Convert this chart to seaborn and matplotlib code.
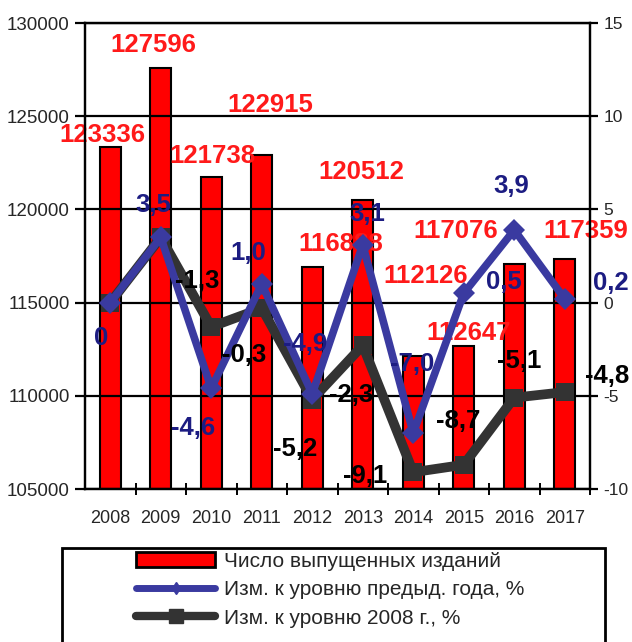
import numpy as np
import pandas as pd
import seaborn as sns
import matplotlib.pyplot as plt
from matplotlib.patches import Patch, Rectangle
from matplotlib.lines import Line2D

# Data
years = ['2008', '2009', '2010', '2011', '2012', '2013', '2014', '2015', '2016', '2017']
editions = [123336, 127596, 121738, 122915, 116888, 120512, 112126, 112647, 117076, 117359]
chg_prev = [0, 3.5, -4.6, 1.0, -4.9, 3.1, -7.0, 0.5, 3.9, 0.2]
chg_2008 = [0, 3.5, -1.3, -0.3, -5.2, -2.3, -9.1, -8.7, -5.1, -4.8]
prev_labels = ['0', '3,5', '-4,6', '1,0', '-4,9', '3,1', '-7,0', '0,5', '3,9', '0,2']
base_labels = ['', '', '-1,3', '-0,3', '-5,2', '-2,3', '-9,1', '-8,7', '-5,1', '-4,8']
legend_labels = ['Число выпущенных изданий', 'Изм. к уровню предыд. года, %', 'Изм. к уровню 2008 г., %']

# label offsets in pixels (dx, dy), as placed in the original picture
red_off = [(-8, 12), (-7, 23), (1, 21), (9, 50), (28, 23), (-1, 28), (12, 80), (5, 13), (-59, 33), (21, 28)]
blue_off = [(-9, -35), (-7, 32), (-18, -40), (-14, 31), (-7, 50), (5, 31), (-1, 69), (40, 11), (-3, 44), (46, 16)]
dark_off = [(0, 0), (0, 0), (-14, 46), (-18, -47), (-17, -49), (-12, -50), (-48, -4), (-6, 44), (5, 37), (42, 16)]

RED = '#ff0000'
BLUE = '#3a3aa0'
NAVY = '#1c1c82'
DARK = '#333333'

sns.set_theme(style='white')
plt.rcParams['font.family'] = ['Liberation Sans', 'DejaVu Sans']
plt.rcParams['axes.unicode_minus'] = False

df = pd.DataFrame({'year': years, 'pos': np.arange(len(years)), 'editions': editions,
                   'prev': chg_prev, 'base': chg_2008})

fig = plt.figure(figsize=(6.32, 6.42), dpi=100)
ax = fig.add_axes([85 / 632, 1 - 489 / 642, 505 / 632, 466 / 642])

sns.barplot(data=df, x='year', y='editions', color=RED, saturation=1, width=0.42,
            edgecolor='black', linewidth=1.5, ax=ax)
ax.set_ylim(105000, 130000)
ax.set_xlim(-0.5, len(years) - 0.5)
ax.set_yticks(np.arange(105000, 130001, 5000))
ax.yaxis.grid(True, color='black', linewidth=1.6)
ax.set_axisbelow(False)
ax.set_xlabel('')
ax.set_ylabel('')
for s in ax.spines.values():
    s.set_color('black')
    s.set_linewidth(1.6)
ax.tick_params(axis='y', direction='out', length=7, width=1.6, color='black',
               labelsize=13.5, pad=4, left=True)
ax.tick_params(axis='x', which='major', length=0, labelsize=13, pad=15)
ax.set_xticks(np.arange(len(years)) + 0.5, minor=True)
ax.tick_params(axis='x', which='minor', direction='inout', length=8, width=1.4,
               color='black', bottom=True)

ax2 = ax.twinx()
sns.lineplot(data=df, x='pos', y='base', color=DARK, linewidth=7, marker='s',
             markersize=13, markeredgewidth=0, sort=False, ax=ax2, zorder=3)
sns.lineplot(data=df, x='pos', y='prev', color=BLUE, linewidth=5.5, marker='D',
             markersize=11, markeredgewidth=0, sort=False, ax=ax2, zorder=4)
ax2.set_ylim(-10, 15)
ax2.set_xlim(-0.5, len(years) - 0.5)
ax2.set_yticks(np.arange(-10, 16, 5))
ax2.set_xlabel('')
ax2.set_ylabel('')
ax2.grid(False)
for s in ax2.spines.values():
    s.set_color('black')
    s.set_linewidth(1.6)
ax2.tick_params(axis='y', direction='out', length=6, width=1.6, color='black',
                labelsize=12.5, pad=3.5, right=True)

# data labels
for i in range(len(years)):
    ax.annotate(str(editions[i]), (i, editions[i]), xytext=red_off[i],
                textcoords='offset pixels', ha='center', va='center',
                color='#ff1a1a', fontsize=18.5, fontweight='bold', zorder=6)
    ax2.annotate(prev_labels[i], (i, chg_prev[i]), xytext=blue_off[i],
                 textcoords='offset pixels', ha='center', va='center',
                 color=NAVY, fontsize=18.5, fontweight='bold', zorder=6)
    if base_labels[i]:
        ax2.annotate(base_labels[i], (i, chg_2008[i]), xytext=dark_off[i],
                     textcoords='offset pixels', ha='center', va='center',
                     color='black', fontsize=18.5, fontweight='bold', zorder=6)

# legend with a box running past the bottom edge
handles = [Patch(facecolor=RED, edgecolor='black', linewidth=2),
           Line2D([], [], color=BLUE, linewidth=5, marker='d', markersize=6),
           Line2D([], [], color=DARK, linewidth=6, marker='s', markersize=10)]
fig.legend(handles, legend_labels, loc='upper left',
           bbox_to_anchor=(136 / 632, 1 - 552 / 642), frameon=False,
           fontsize=15, handlelength=3.8, handleheight=0.7, handletextpad=0.4,
           labelspacing=0.45, borderpad=0, borderaxespad=0)
fig.add_artist(Rectangle((62 / 632, -0.05), 543 / 632, 0.05 + 94 / 642,
                         transform=fig.transFigure, fill=False,
                         edgecolor='black', linewidth=2))

fig.savefig('out.png', dpi=100)
